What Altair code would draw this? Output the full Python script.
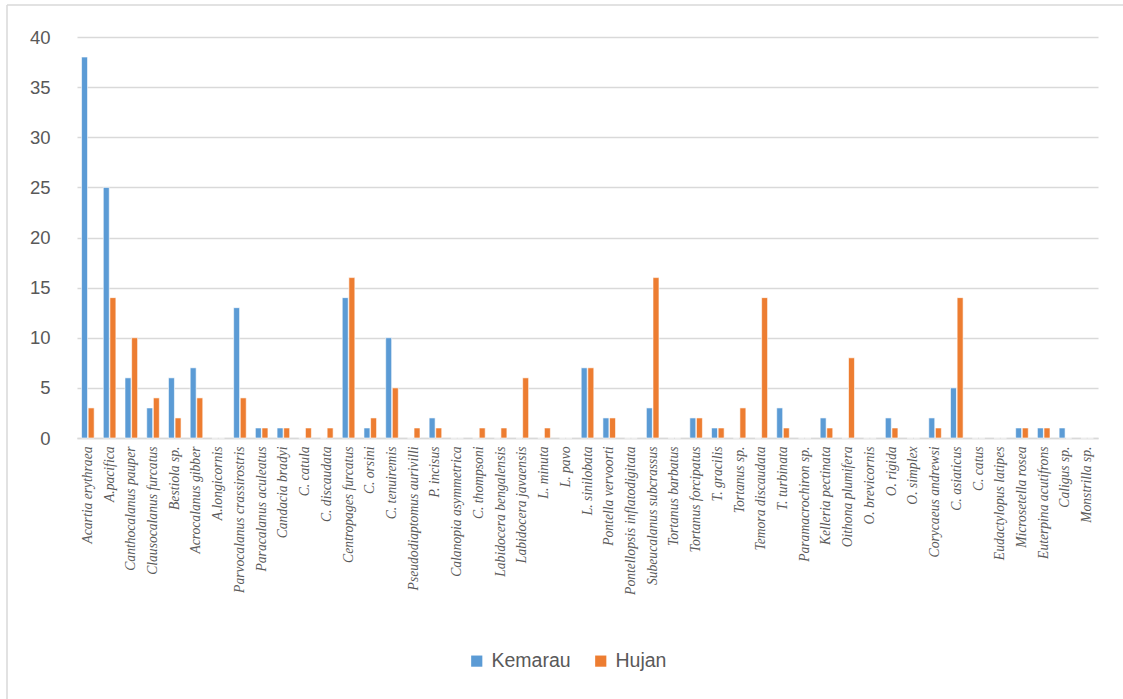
import altair as alt
import pandas as pd

species = [
    "Acartia erythraea", "A.pacifica", "Canthocalanus pauper", "Clausocalanus furcatus",
    "Bestiola sp.", "Acrocalanus gibber", "A.longicornis", "Parvocalanus crassirostris",
    "Paracalanus aculeatus", "Candacia bradyi", "C. catula", "C. discaudata",
    "Centropages furcatus", "C. orsini", "C. tenuiremis", "Pseudodiaptomus aurivilli",
    "P. incisus", "Calanopia asymmetrica", "C. thompsoni", "Labidocera bengalensis",
    "Labidocera javaensis", "L. minuta", "L. pavo", "L. sinilobata", "Pontella vervoorti",
    "Pontellopsis inflatodigitata", "Subeucalanus subcrassus", "Tortanus barbatus",
    "Tortanus forcipatus", "T. gracilis", "Tortanus sp.", "Temora discaudata",
    "T. turbinata", "Paramacrochiron sp.", "Kelleria pectinata", "Oithona plumifera",
    "O. brevicornis", "O. rigida", "O. simplex", "Corycaeus andrewsi", "C. asiaticus",
    "C. catus", "Eudactylopus latipes", "Microsetella rosea", "Euterpina acutifrons",
    "Caligus sp.", "Monstrilla sp.",
]
kemarau = [38, 25, 6, 3, 6, 7, 0, 13, 1, 1, 0, 0, 14, 1, 10, 0, 2, 0, 0, 0, 0, 0, 0, 7, 2,
           0, 3, 0, 2, 1, 0, 0, 3, 0, 2, 0, 0, 2, 0, 2, 5, 0, 0, 1, 1, 1, 0]
hujan = [3, 14, 10, 4, 2, 4, 0, 4, 1, 1, 1, 1, 16, 2, 5, 1, 1, 0, 1, 1, 6, 1, 0, 7, 2,
         0, 16, 0, 2, 1, 3, 14, 1, 0, 1, 8, 0, 1, 0, 1, 14, 0, 0, 1, 1, 0, 0]
series = ["Kemarau", "Hujan"]
colors = ["#5B9BD5", "#ED7D31"]

rows = []
for s, k, h in zip(species, kemarau, hujan):
    rows.append({"species": s, "series": "Kemarau", "value": k})
    rows.append({"species": s, "series": "Hujan", "value": h})
df = pd.DataFrame(rows)

bars = alt.Chart(df).mark_bar(stroke="white", strokeWidth=0.6).encode(
    x=alt.X("species:N", sort=species, title=None,
            scale=alt.Scale(paddingInner=0.42, paddingOuter=0.21),
            axis=alt.Axis(labelAngle=-90, labelAlign="right", labelBaseline="middle",
                          labelFont="Liberation Serif", labelFontStyle="italic",
                          labelFontSize=13.6, labelColor="#595959", labelPadding=8,
                          ticks=False, grid=False, domainColor="#D9D9D9", domainWidth=1.5,
                          labelLimit=300, labelOverlap=False)),
    xOffset=alt.XOffset("series:N", sort=series, scale=alt.Scale(paddingInner=0.1)),
    y=alt.Y("value:Q", title=None,
            scale=alt.Scale(domain=[0, 40]),
            axis=alt.Axis(values=[0, 5, 10, 15, 20, 25, 30, 35, 40], domain=False,
                          ticks=False, labelFont="Liberation Sans", labelFontSize=18.5,
                          labelColor="#595959", labelPadding=27,
                          gridColor="#D9D9D9", gridWidth=1.5)),
    color=alt.Color("series:N", sort=series,
                    scale=alt.Scale(domain=series, range=colors),
                    legend=alt.Legend(title=None, orient="none", legendX=390, legendY=614,
                                      direction="horizontal", symbolType="square",
                                      symbolSize=125, symbolStrokeWidth=0,
                                      labelFont="Liberation Sans", labelFontSize=19.5,
                                      labelColor="#595959", columnPadding=20,
                                      labelOffset=5)),
)

frame_left = alt.Chart().mark_rule(color="#D9D9D9", strokeWidth=1.5).encode(
    x=alt.value(-70), y=alt.value(-32), y2=alt.value(662))
frame_top = alt.Chart().mark_rule(color="#D9D9D9", strokeWidth=1.5).encode(
    x=alt.value(-70), x2=alt.value(1050), y=alt.value(-32))

chart = alt.layer(frame_left, frame_top, bars).properties(
    width=1021, height=401,
    background="white",
    autosize=alt.AutoSizeParams(type="none"),
    padding={"left": 77, "top": 37, "right": 25, "bottom": 261},
).configure_view(stroke="transparent", strokeWidth=0)

chart.save("out.html", embed_options={"renderer": "svg", "actions": False})
